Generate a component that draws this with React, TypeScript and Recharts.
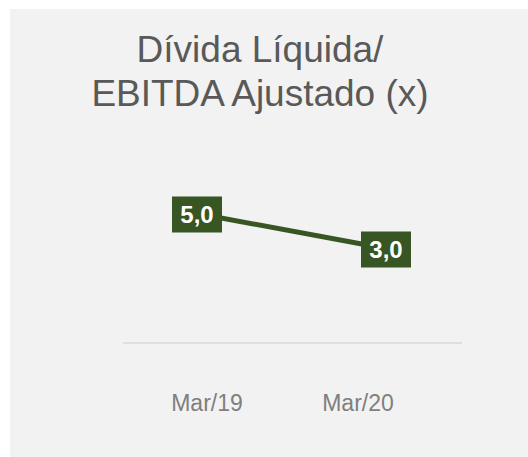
import React from "react";
import { LineChart, Line, XAxis, YAxis, LabelList } from "recharts";

const categories = ["Mar/19", "Mar/20"];
const values = [5.0, 3.0];
const titleLines = ["Dívida Líquida/", "EBITDA Ajustado (x)"];

const data = categories.map((c, i) => ({ name: c, value: values[i] }));

const W = 518;
const H = 448;
const GREEN = "#375623";
const FONT = "'Liberation Sans', Arial, sans-serif";
const tickShift = [10, -28];

const fmt = (v: number) => v.toFixed(1).replace(".", ",");

const Tick = (props: any) => {
  const { x, y, payload, index } = props;
  return (
    <text
      x={x + (tickShift[index] ?? 0)}
      y={y + 68}
      textAnchor="middle"
      fill="#7f7f7f"
      fontSize={23}
      fontFamily={FONT}
    >
      {payload.value}
    </text>
  );
};

const BoxLabel = (props: any) => {
  const { x, y, value } = props;
  const bw = 50;
  const bh = 36;
  return (
    <g>
      <rect x={x - bw / 2} y={y - bh / 2 + 1} width={bw} height={bh} fill={GREEN} />
      <text
        x={x}
        y={y + 9.5}
        textAnchor="middle"
        fill="#ffffff"
        fontWeight="bold"
        fontSize={24}
        fontFamily={FONT}
      >
        {fmt(Number(value))}
      </text>
    </g>
  );
};

export default function App() {
  return (
    <div
      style={{
        position: "absolute",
        left: 10,
        top: 9,
        width: W,
        height: H,
        background: "#f2f2f2",
      }}
    >
      <svg
        width={W}
        height={130}
        style={{ position: "absolute", left: 0, top: 0, pointerEvents: "none" }}
      >
        {titleLines.map((t, i) => (
          <text
            key={i}
            x={250}
            y={52.7 + i * 44.5}
            textAnchor="middle"
            fill="#595959"
            fontSize={37}
            fontFamily={FONT}
          >
            {t}
          </text>
        ))}
      </svg>
      <div style={{ position: "absolute", left: 0, top: 0 }}>
        <LineChart
          width={W}
          height={H}
          data={data}
          margin={{ top: 152, right: 66, bottom: 54, left: 113 }}
        >
          <XAxis
            dataKey="name"
            height={60}
            padding={{ left: 74, right: 76 }}
            axisLine={{ stroke: "#d9d9d9", strokeWidth: 1.5 }}
            tickLine={false}
            tickSize={0}
            tickMargin={0}
            tick={<Tick />}
            interval={0}
          />
          <YAxis hide domain={[-2.4, 8]} />
          <Line
            type="linear"
            dataKey="value"
            stroke={GREEN}
            strokeWidth={5}
            dot={false}
            activeDot={false}
            isAnimationActive={false}
          >
            <LabelList dataKey="value" content={<BoxLabel />} />
          </Line>
        </LineChart>
      </div>
    </div>
  );
}
